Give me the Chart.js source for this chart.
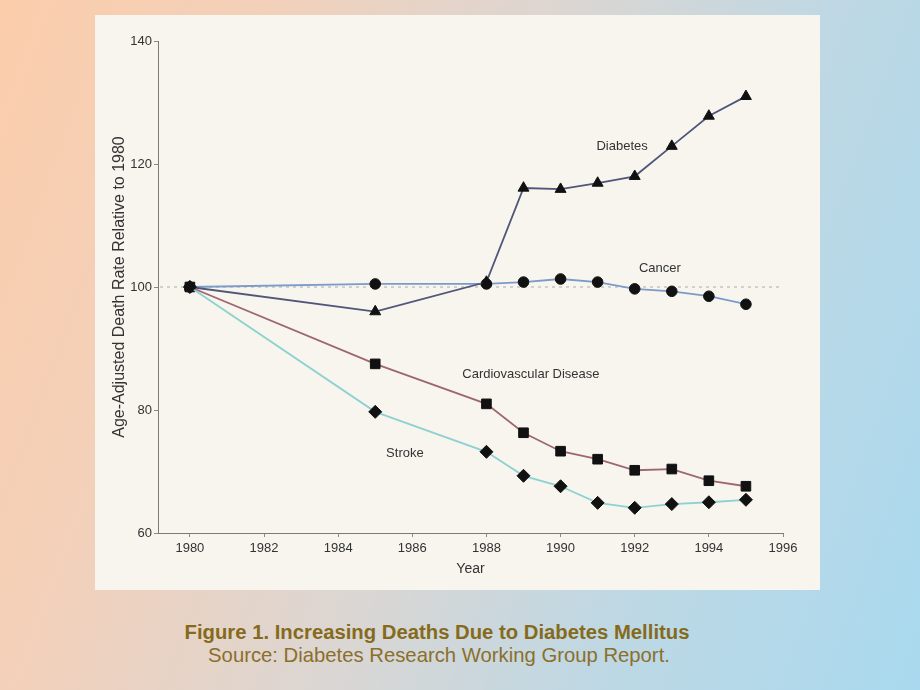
<!DOCTYPE html>
<html>
<head>
<meta charset="utf-8">
<script src="https://cdn.jsdelivr.net/npm/chart.js@4.4.1/dist/chart.umd.min.js"></script>
<style>
  html, body { margin: 0; padding: 0; }
  body {
    width: 920px; height: 690px; overflow: hidden; position: relative;
    background: linear-gradient(110deg, #fbcdab 0%, #f3d0b9 22%, #dcd6d2 48%, #bed8e4 72%, #a9d9ee 100%);
    font-family: "Liberation Sans", Arial, Helvetica, sans-serif;
  }
  #panel {
    position: absolute; left: 95px; top: 15px; width: 725px; height: 575px;
    background: #f7f5ee;
  }
  #caption {
    position: absolute; left: 0; width: 874px; top: 621px; text-align: center;
    color: #866a1c; font-size: 20.3px; line-height: 23px;
  }
  #caption .t { font-weight: bold; }
  #caption .s { color: #8b6f2c; padding-left: 4px; }
</style>
</head>
<body>
<div id="panel"><canvas id="c"></canvas></div>
<div id="caption">
  <div class="t">Figure 1. Increasing Deaths Due to Diabetes Mellitus</div>
  <div class="s">Source: Diabetes Research Working Group Report.</div>
</div>
<script>
// ---- data ----
const years = [1980, 1985, 1988, 1989, 1990, 1991, 1992, 1993, 1994, 1995];
const diabetes = [100, 96.0, 100.8, 116.1, 115.9, 116.9, 118.0, 122.9, 127.8, 131.0];
const cancer = [100, 100.5, 100.5, 100.8, 101.3, 100.8, 99.7, 99.3, 98.5, 97.2];
const cardiovascular = [100, 87.5, 81.0, 76.3, 73.3, 72.0, 70.2, 70.4, 68.5, 67.6];
const stroke = [100, 79.7, 73.2, 69.3, 67.6, 64.9, 64.1, 64.7, 65.0, 65.4];
const xTicks = [1980, 1982, 1984, 1986, 1988, 1990, 1992, 1994, 1996];
const yTicks = [60, 80, 100, 120, 140];
const seriesNames = ['Diabetes', 'Cancer', 'Cardiovascular Disease', 'Stroke'];
const referenceValue = 100;

const toPts = arr => years.map((y, i) => ({ x: y, y: arr[i] }));

const FONT = '"Liberation Sans", Arial, Helvetica, sans-serif';

const labelPlugin = {
  id: 'labels',
  beforeDatasetsDraw(chart) {
    const { ctx, chartArea, scales } = chart;
    const y = scales.y.getPixelForValue(referenceValue);
    ctx.save();
    ctx.strokeStyle = '#c4c4c4';
    ctx.lineWidth = 1.5;
    ctx.setLineDash([3, 4]);
    ctx.beginPath();
    ctx.moveTo(chartArea.left + 2, y);
    ctx.lineTo(chartArea.right, y);
    ctx.stroke();
    ctx.restore();
  },
  afterDatasetsDraw(chart) {
    const { ctx, scales } = chart;
    const spots = [
      [seriesNames[0], 1991.66, 122.9],
      [seriesNames[1], 1992.68, 103.1],
      [seriesNames[2], 1989.2, 85.85],
      [seriesNames[3], 1985.8, 73.0]
    ];
    ctx.save();
    ctx.font = '13px ' + FONT;
    ctx.fillStyle = '#333333';
    ctx.textAlign = 'center';
    ctx.textBaseline = 'middle';
    spots.forEach(([t, xv, yv]) => {
      ctx.fillText(t, scales.x.getPixelForValue(xv), scales.y.getPixelForValue(yv));
    });
    ctx.restore();
  }
};

const mk = (label, data, color, style, r) => ({
  label, data: toPts(data),
  borderColor: color, borderWidth: 1.8,
  pointStyle: style, pointRadius: r, pointHoverRadius: r,
  pointBackgroundColor: '#111111', pointBorderColor: '#111111', pointBorderWidth: 1,
  tension: 0, fill: false
});

new Chart(document.getElementById('c'), {
  type: 'line',
  data: {
    datasets: [
      mk(seriesNames[3], stroke, '#8dd2d1', 'rectRot', 6.5),
      mk(seriesNames[2], cardiovascular, '#9d6671', 'rect', 6.8),
      mk(seriesNames[0], diabetes, '#50567a', 'triangle', 6.3),
      mk(seriesNames[1], cancer, '#7c9aca', 'circle', 5.3)
    ]
  },
  options: {
    responsive: true, maintainAspectRatio: false, animation: false,
    devicePixelRatio: 1,
    layout: { padding: { left: 0, right: 37, top: 26, bottom: 0 } },
    plugins: { legend: { display: false }, tooltip: { enabled: false } },
    scales: {
      x: {
        type: 'linear', min: 1979.14, max: 1996,
        afterBuildTicks: s => { s.ticks = xTicks.map(v => ({ value: v })); },
        afterFit: s => { s.height = 57; },
        ticks: { color: '#333', font: { family: FONT, size: 13 }, padding: 4, maxRotation: 0,
                 callback: v => String(v) },
        grid: { drawOnChartArea: false, drawTicks: true, tickLength: 4, color: '#8a8a8a' },
        border: { display: true, color: '#7a7a7a', width: 1 },
        title: { display: true, text: 'Year', color: '#333', font: { family: FONT, size: 14 },
                 padding: { top: 0, bottom: 12.2 } }
      },
      y: {
        type: 'linear', min: 60, max: 140,
        afterBuildTicks: s => { s.ticks = yTicks.map(v => ({ value: v })); },
        afterFit: s => { s.width = 63; },
        ticks: { color: '#333', font: { family: FONT, size: 13 }, padding: 2,
                 callback: v => String(v) },
        grid: { drawOnChartArea: false, drawTicks: true, tickLength: 4, color: '#8a8a8a' },
        border: { display: true, color: '#7a7a7a', width: 1 },
        title: { display: true, text: 'Age-Adjusted Death Rate Relative to 1980', color: '#333',
                 font: { family: FONT, size: 16 }, padding: { top: 15, bottom: 0 } }
      }
    }
  },
  plugins: [labelPlugin]
});
</script>
</body>
</html>
